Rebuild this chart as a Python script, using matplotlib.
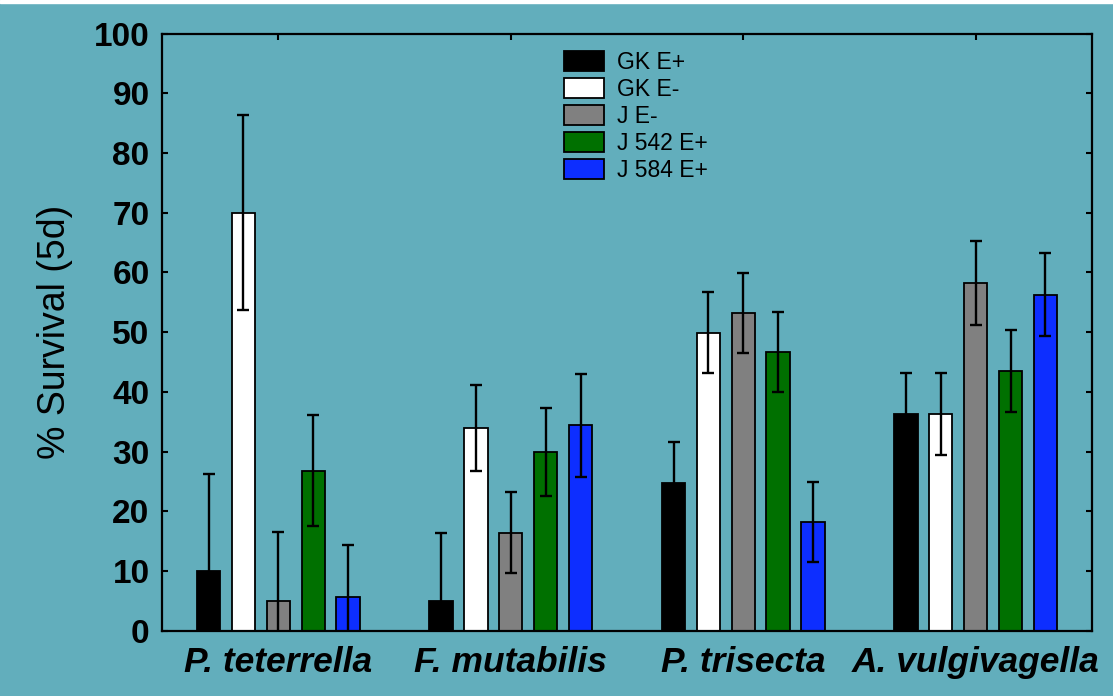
import matplotlib.pyplot as plt
import numpy as np
from matplotlib.patches import Rectangle

species = ["P. teterrella", "F. mutabilis", "P. trisecta", "A. vulgivagella"]
groups = ["GK E+", "GK E-", "J E-", "J 542 E+", "J 584 E+"]
colors = ["#000000", "#ffffff", "#808080", "#007000", "#0d2eff"]

# % survival (5d) per group, one value per species
gk_ep = [10.0, 4.9, 24.8, 36.3]
gk_em = [70.0, 34.0, 49.9, 36.3]
j_em = [5.0, 16.4, 53.2, 58.2]
j542_ep = [26.8, 29.9, 46.7, 43.5]
j584_ep = [5.7, 34.4, 18.2, 56.3]

# error bar half widths
gk_ep_err = [16.2, 11.5, 6.8, 6.8]
gk_em_err = [16.3, 7.2, 6.8, 6.9]
j_em_err = [11.5, 6.8, 6.7, 7.0]
j542_ep_err = [9.3, 7.4, 6.7, 6.9]
j584_ep_err = [8.7, 8.6, 6.7, 7.0]

values = [gk_ep, gk_em, j_em, j542_ep, j584_ep]
errors = [gk_ep_err, gk_em_err, j_em_err, j542_ep_err, j584_ep_err]

plt.rcParams["font.family"] = ["Liberation Sans", "DejaVu Sans"]

bg = "#62aebc"
fig = plt.figure(figsize=(11.13, 6.96), dpi=100, facecolor=bg)
ax = fig.add_axes([0.1456, 0.0938, 0.8355, 0.8578])
ax.set_facecolor(bg)

x = np.arange(len(species))
step = 0.15
width = 0.1
for i, (vals, errs) in enumerate(zip(values, errors)):
    pos = x + (i - 2) * step
    ax.bar(pos, vals, width, color=colors[i], edgecolor="black", linewidth=1.3,
           label=groups[i], zorder=2)
    ax.errorbar(pos, vals, yerr=errs, fmt="none", ecolor="black", elinewidth=1.7,
                capsize=4, capthick=1.7, zorder=3)

ax.set_xlim(-0.5, 3.5)
ax.set_ylim(0, 100)
ax.set_yticks(np.arange(0, 101, 10))
ax.set_xticks(x)
ax.set_xticklabels(species, fontsize=25.5, fontweight="bold", fontstyle="italic")
for lab in ax.get_yticklabels():
    lab.set_fontsize(24)
    lab.set_fontweight("bold")
ax.tick_params(axis="both", direction="in", length=4, width=1.5,
               top=True, right=True)
ax.tick_params(axis="y", pad=9)
ax.tick_params(axis="x", pad=11)
for s in ax.spines.values():
    s.set_linewidth(1.6)

ax.set_ylabel("% Survival (5d)", fontsize=27, labelpad=15)

ax.legend(loc="upper left", bbox_to_anchor=(0.42, 0.99), frameon=False,
          borderpad=0, fontsize=16.5, handlelength=1.75, handleheight=0.95,
          labelspacing=0.17, handletextpad=0.57)

fig.add_artist(Rectangle((0, 1 - 3 / 696), 1, 3 / 696, transform=fig.transFigure,
                         color="white", zorder=10))

fig.savefig("out.png", dpi=100, facecolor=bg)
